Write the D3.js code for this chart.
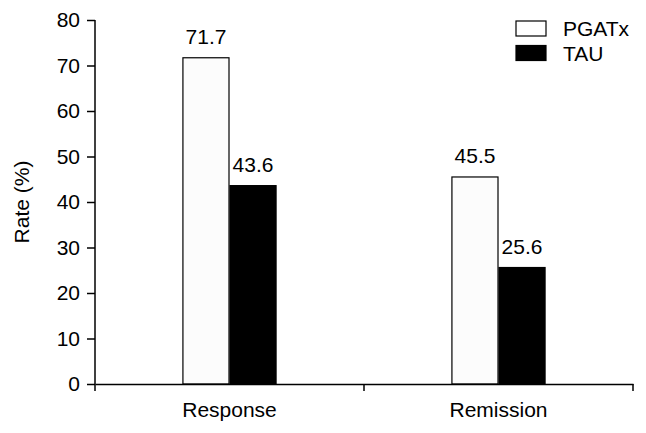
<!DOCTYPE html>
<html>
<head>
  <meta charset="utf-8">
  <script src="https://d3js.org/d3.v7.min.js"></script>
  <style>
    body { margin: 0; background: #fff; }
    svg text { font-family: "Liberation Sans", Arial, sans-serif; fill: #000; }
  </style>
</head>
<body>
  <div id="chart"></div>
  <script>
    // chart data
    var categories = ["Response", "Remission"];
    var seriesNames = ["PGATx", "TAU"];
    var pgatx = [71.7, 45.5];
    var tau = [43.6, 25.6];
    var yTicks = [0, 10, 20, 30, 40, 50, 60, 70, 80];

    var width = 646, height = 433;
    var margin = { top: 20, right: 13, bottom: 49, left: 95 };
    var fs = "21px";

    var svg = d3.select("#chart").append("svg")
      .attr("width", width)
      .attr("height", height);

    var g = svg.append("g")
      .attr("transform", "translate(" + margin.left + "," + margin.top + ")");

    var w = width - margin.left - margin.right;
    var h = height - margin.top - margin.bottom;

    var x0 = d3.scaleBand().domain(categories).range([0, w]).paddingInner(0).paddingOuter(0);
    var x1 = d3.scaleBand().domain(seriesNames).range([0, x0.bandwidth() * 0.35]);
    var y = d3.scaleLinear().domain([0, 80]).range([h, 0]);

    var rows = categories.map(function (c, i) {
      return { cat: c, vals: [{ s: "PGATx", v: pgatx[i] }, { s: "TAU", v: tau[i] }] };
    });

    var off = (x0.bandwidth() - x1.range()[1]) / 2;

    var grp = g.selectAll(".grp")
      .data(rows)
      .enter().append("g")
      .attr("transform", function (d) { return "translate(" + (x0(d.cat) + off) + ",0)"; });

    grp.selectAll("rect")
      .data(function (d) { return d.vals; })
      .enter().append("rect")
      .attr("x", function (d) { return x1(d.s) + 0.5; })
      .attr("y", function (d) { return y(d.v); })
      .attr("width", x1.bandwidth() - 1)
      .attr("height", function (d) { return h - y(d.v); })
      .attr("fill", function (d) { return d.s === "PGATx" ? "#fcfcfc" : "#000"; })
      .attr("stroke", "#000")
      .attr("stroke-width", 1.2);

    grp.selectAll(".val")
      .data(function (d) { return d.vals; })
      .enter().append("text")
      .attr("x", function (d) { return x1(d.s) + x1.bandwidth() / 2; })
      .attr("y", function (d) { return y(d.v) - 14; })
      .attr("text-anchor", "middle")
      .style("font-size", fs)
      .text(function (d) { return d.v.toFixed(1); });

    // y axis
    var yAxis = g.append("g")
      .call(d3.axisLeft(y).tickValues(yTicks).tickSize(8).tickPadding(7).tickSizeOuter(0));
    yAxis.select(".domain").attr("d", "M0,0V" + (h + 7)).attr("stroke-width", 1.5);
    yAxis.selectAll(".tick line").attr("stroke-width", 1.5);
    yAxis.selectAll("text").style("font-size", fs);

    // x axis with boundary ticks
    var xAxis = g.append("g")
      .attr("transform", "translate(0," + h + ")")
      .call(d3.axisBottom(x0).tickSize(0).tickPadding(18).tickSizeOuter(0));
    xAxis.select(".domain").attr("stroke-width", 1.5);
    xAxis.selectAll("text").style("font-size", fs);
    xAxis.selectAll(".bound")
      .data(categories.slice(1).concat(["end"]))
      .enter().append("line")
      .attr("x1", function (d) { return d === "end" ? w : x0(d); })
      .attr("x2", function (d) { return d === "end" ? w : x0(d); })
      .attr("y1", 0).attr("y2", 7)
      .attr("stroke", "#000").attr("stroke-width", 1.5);

    svg.append("text")
      .attr("transform", "translate(29," + (margin.top + h / 2) + ") rotate(-90)")
      .attr("text-anchor", "middle")
      .style("font-size", fs)
      .text("Rate (%)");

    // legend
    var leg = svg.append("g").attr("transform", "translate(516,21)");
    var li = leg.selectAll(".li")
      .data(seriesNames)
      .enter().append("g")
      .attr("transform", function (d, i) { return "translate(0," + (i * 24.5) + ")"; });
    li.append("rect")
      .attr("width", 30).attr("height", 15)
      .attr("fill", function (d) { return d === "PGATx" ? "#fff" : "#000"; })
      .attr("stroke", "#000").attr("stroke-width", 1.2);
    li.append("text")
      .attr("x", 47).attr("y", 15)
      .style("font-size", fs)
      .text(function (d) { return d; });
  </script>
</body>
</html>
